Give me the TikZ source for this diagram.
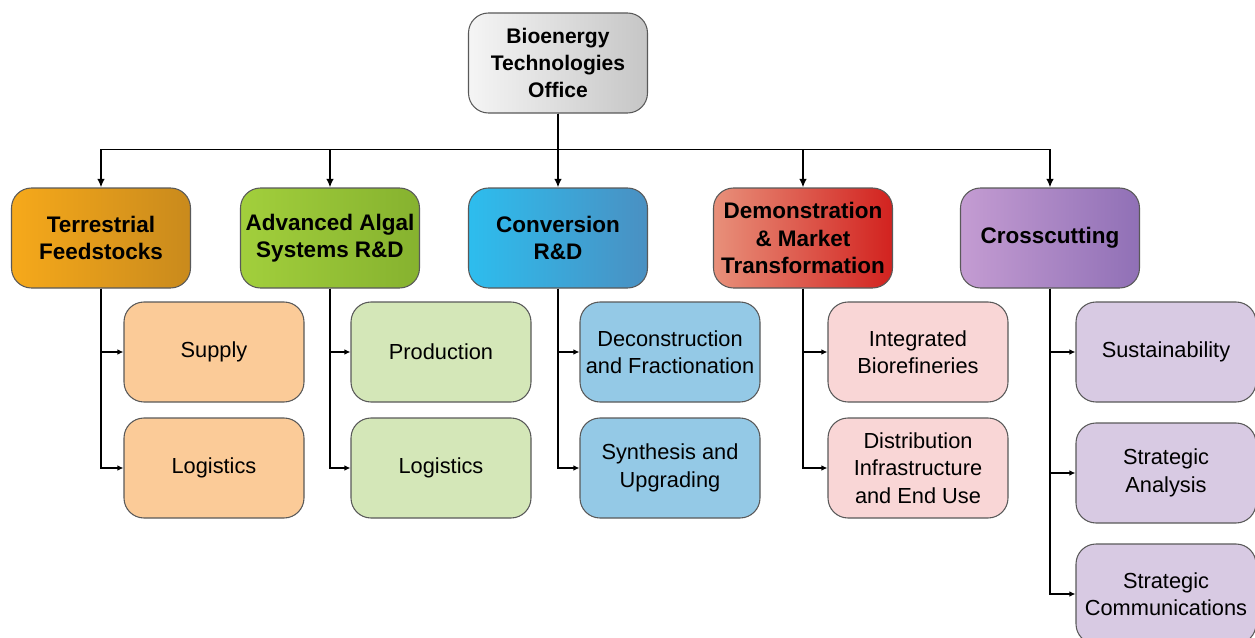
\documentclass[tikz,border=0pt]{standalone}
\usepackage{fontspec}
\setmainfont{Liberation Sans}
\usetikzlibrary{arrows.meta, positioning, calc}

\definecolor{terrA}{HTML}{F6A91B}
\definecolor{terrB}{HTML}{C98A1C}
\definecolor{algA}{HTML}{A2CF3C}
\definecolor{algB}{HTML}{86B22F}
\definecolor{convA}{HTML}{2DBDEE}
\definecolor{convB}{HTML}{4A90C2}
\definecolor{demoA}{HTML}{E8907A}
\definecolor{demoB}{HTML}{D2221F}
\definecolor{crossA}{HTML}{C49CD2}
\definecolor{crossB}{HTML}{9070B6}
\definecolor{terrsub}{HTML}{FBCB98}
\definecolor{algsub}{HTML}{D4E7B8}
\definecolor{convsub}{HTML}{94C9E6}
\definecolor{demosub}{HTML}{F9D6D6}
\definecolor{crosssub}{HTML}{D8CAE3}

\begin{document}
\begin{tikzpicture}[
  box/.style = {draw=black!65, line width=0.6pt, rounded corners=0.4cm,
    minimum width=3.58cm, minimum height=2cm, inner sep=0pt, align=center},
  office/.style = {box, left color=gray!8, right color=gray!45,
    font=\fontsize{12}{15.3}\selectfont\bfseries},
  area/.style = {box, font=\fontsize{12.8}{15.4}\selectfont\bfseries},
  task/.style = {box, minimum width=3.6cm, font=\fontsize{12.4}{15.6}\selectfont},
  link/.style = {line width=1.1pt, -{Latex[length=1.7mm, width=1.5mm]}},
  sublink/.style = {line width=1.1pt, -{Latex[length=1.2mm, width=1.1mm]}}
]

\useasboundingbox (0,0) rectangle (25.1,-12.76);

% Office
\node[office] (bto) at (11.16,-1.26) {Bioenergy\\Technologies\\Office};

% Program areas
\node[area, left color=terrA, right color=terrB] (terr) at (2.02,-4.76) {Terrestrial\\Feedstocks};
\node[area, left color=algA, right color=algB] (alg) at (6.6,-4.76) {Advanced Algal\\Systems R\&D};
\node[area, left color=convA, right color=convB] (conv) at (11.16,-4.76) {Conversion\\R\&D};
\node[area, left color=demoA, right color=demoB] (demo) at (16.06,-4.76) {Demonstration\\\& Market\\Transformation};
\node[area, left color=crossA, right color=crossB] (cross) at (21.0,-4.76) {Crosscutting};

% Sub-programs
\node[task, fill=terrsub] (supply) at (4.28,-7.04) {Supply};
\node[task, fill=terrsub] (terrlog) at (4.28,-9.36) {Logistics};
\node[task, fill=algsub] (prod) at (8.82,-7.04) {Production};
\node[task, fill=algsub] (alglog) at (8.82,-9.36) {Logistics};
\node[task, fill=convsub] (decon) at (13.4,-7.04) {Deconstruction\\and Fractionation};
\node[task, fill=convsub] (synth) at (13.4,-9.36) {Synthesis and\\Upgrading};
\node[task, fill=demosub] (integ) at (18.36,-7.04) {Integrated\\Biorefineries};
\node[task, fill=demosub] (distr) at (18.36,-9.36) {Distribution\\Infrastructure\\and End Use};
\node[task, fill=crosssub] (sust) at (23.32,-7.04) {Sustainability};
\node[task, fill=crosssub] (analysis) at (23.32,-9.46) {Strategic\\Analysis};
\node[task, fill=crosssub] (comms) at (23.32,-11.88) {Strategic\\Communications};

% Office to areas
\foreach \a in {terr, alg, conv, demo, cross}
  \draw[link] (bto.south) |- ([yshift=0.76cm]\a.north) -- (\a.north);

% Areas to sub-programs
\foreach \a/\b in {terr/supply, terr/terrlog, alg/prod, alg/alglog, conv/decon,
                   conv/synth, demo/integ, demo/distr, cross/sust, cross/analysis, cross/comms}
  \draw[sublink] (\a.south) |- (\b.west);

\end{tikzpicture}
\end{document}
